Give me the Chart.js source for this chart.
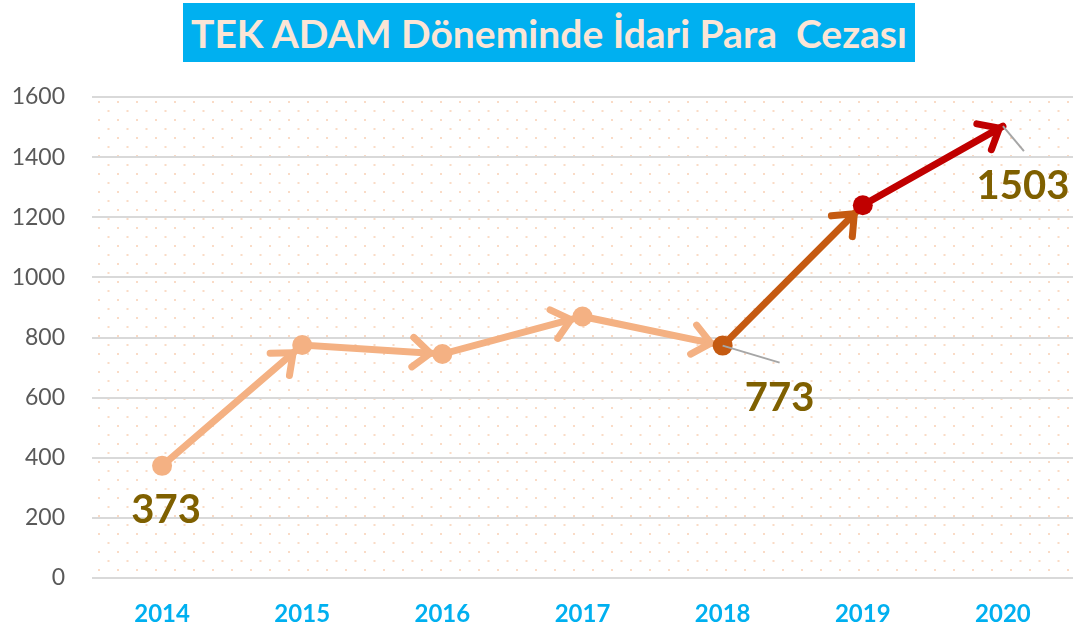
<!DOCTYPE html>
<html><head><meta charset="utf-8">
<script src="https://cdn.jsdelivr.net/npm/chart.js@4"></script>
<style>
html,body{margin:0;padding:0;background:#fff;}
#wrap{position:relative;width:1083px;height:633px;overflow:hidden;}
#title{position:absolute;left:183px;top:3px;width:732px;height:59px;background:#00B0F0;color:#FBE5D6;font:700 39px Lato;display:flex;align-items:center;justify-content:center;white-space:pre;}
canvas{position:absolute;left:0;top:0;}
</style></head><body>
<div id="wrap"><canvas id="c" width="1083" height="633"></canvas><div id="title">TEK ADAM Döneminde İdari Para  Cezası</div></div>
<script>
const years = ['2014','2015','2016','2017','2018','2019','2020'];
const values = [373, 775, 745, 870, 773, 1240, 1503];
const yTickValues = [0, 200, 400, 600, 800, 1000, 1200, 1400, 1600];
const segmentColors = ['#F4B183','#F4B183','#F4B183','#F4B183','#C55A11','#C00000'];
const pointColors = ['#F4B183','#F4B183','#F4B183','#F4B183','#C55A11','#C00000','#C00000'];
const pointShown = [true, true, true, true, true, true, false];
const labelledIndices = [0, 4, 6];

const labelStyle = {
  0: {dx: 4, dy: 44, leader: null},
  4: {dx: 57, dy: 52, leader: [57, 17]},
  6: {dx: 20, dy: 60, leader: [21, 25]}
};

function makePattern(ctx){
  const t = document.createElement('canvas');
  t.width = 19; t.height = 18;
  const g = t.getContext('2d');
  g.fillStyle = '#FADBC6';
  g.fillRect(0, 0, 2, 2);
  g.fillRect(9.5, 9, 2, 2);
  return ctx.createPattern(t, 'repeat');
}

const bgPlugin = {
  id: 'bgDots',
  beforeDraw(chart){
    const {ctx, chartArea: a} = chart;
    ctx.save();
    ctx.translate(a.left + 6, a.top + 4);
    ctx.fillStyle = makePattern(ctx);
    ctx.fillRect(0, 0, a.right - a.left - 6, a.bottom - a.top - 6);
    ctx.restore();
  }
};

const arrowPlugin = {
  id: 'arrows',
  afterDatasetDraw(chart, args){
    if (args.index !== 0) return;
    const meta = chart.getDatasetMeta(0);
    const ctx = chart.ctx;
    ctx.save();
    ctx.lineCap = 'round';
    ctx.lineJoin = 'round';
    ctx.lineWidth = 7;
    const L = 23, A = 40 * Math.PI / 180;
    for (let i = 0; i < meta.data.length - 1; i++) {
      const p0 = meta.data[i], p1 = meta.data[i + 1];
      const ang = Math.atan2(p1.y - p0.y, p1.x - p0.x);
      const back = pointShown[i + 1] ? 12 : 4;
      const tx = p1.x - back * Math.cos(ang), ty = p1.y - back * Math.sin(ang);
      ctx.strokeStyle = segmentColors[i];
      ctx.beginPath();
      ctx.moveTo(tx - L * Math.cos(ang - A), ty - L * Math.sin(ang - A));
      ctx.lineTo(tx, ty);
      ctx.lineTo(tx - L * Math.cos(ang + A), ty - L * Math.sin(ang + A));
      ctx.stroke();
    }
    ctx.restore();
  }
};

const labelPlugin = {
  id: 'labels',
  afterDraw(chart){
    const meta = chart.getDatasetMeta(0);
    const ctx = chart.ctx;
    ctx.save();
    labelledIndices.forEach(i => {
      const p = meta.data[i];
      const s = labelStyle[i];
      if (s.leader) {
        ctx.strokeStyle = '#A6A6A6';
        ctx.lineWidth = 2;
        ctx.beginPath();
        ctx.moveTo(p.x, p.y);
        ctx.lineTo(p.x + s.leader[0], p.y + s.leader[1]);
        ctx.stroke();
      }
      ctx.fillStyle = '#7F6000';
      ctx.font = '700 40px Lato';
      ctx.textAlign = 'center';
      ctx.textBaseline = 'middle';
      ctx.fillText(String(values[i]), p.x + s.dx, p.y + s.dy);
    });
    ctx.restore();
  }
};

new Chart(document.getElementById('c'), {
  type: 'line',
  data: {
    labels: years,
    datasets: [{
      data: values,
      borderWidth: 7,
      borderCapStyle: 'round',
      pointRadius: 0,
      fill: false,
      tension: 0,
      order: 2,
      segment: { borderColor: c => segmentColors[c.p0DataIndex] }
    }, {
      data: values,
      showLine: false,
      pointRadius: pointShown.map(s => s ? 10 : 0),
      pointBackgroundColor: pointColors,
      pointBorderWidth: 0,
      order: 1
    }]
  },
  options: {
    responsive: false,
    devicePixelRatio: 1,
    animation: false,
    layout: { padding: { top: 97, right: 6, bottom: 0, left: 0 } },
    plugins: { legend: { display: false }, tooltip: { enabled: false }, title: { display: false } },
    scales: {
      x: {
        offset: true,
        afterFit(scale){ scale.height = 55; },
        grid: { display: false, drawTicks: false },
        border: { display: false },
        ticks: { color: '#00B0F0', font: { family: 'Lato', size: 24, weight: '700' }, padding: 22 }
      },
      y: {
        min: 0, max: 1600,
        afterFit(scale){ scale.width = 92; },
        afterBuildTicks(scale){ scale.ticks = yTickValues.map(v => ({value: v})); },
        grid: { color: '#D9D9D9', lineWidth: 2, drawTicks: false },
        border: { display: false },
        ticks: { color: '#595959', font: { family: 'Lato', size: 23 }, padding: 27, callback: v => String(v) }
      }
    }
  },
  plugins: [bgPlugin, arrowPlugin, labelPlugin]
});
</script>
</body></html>
